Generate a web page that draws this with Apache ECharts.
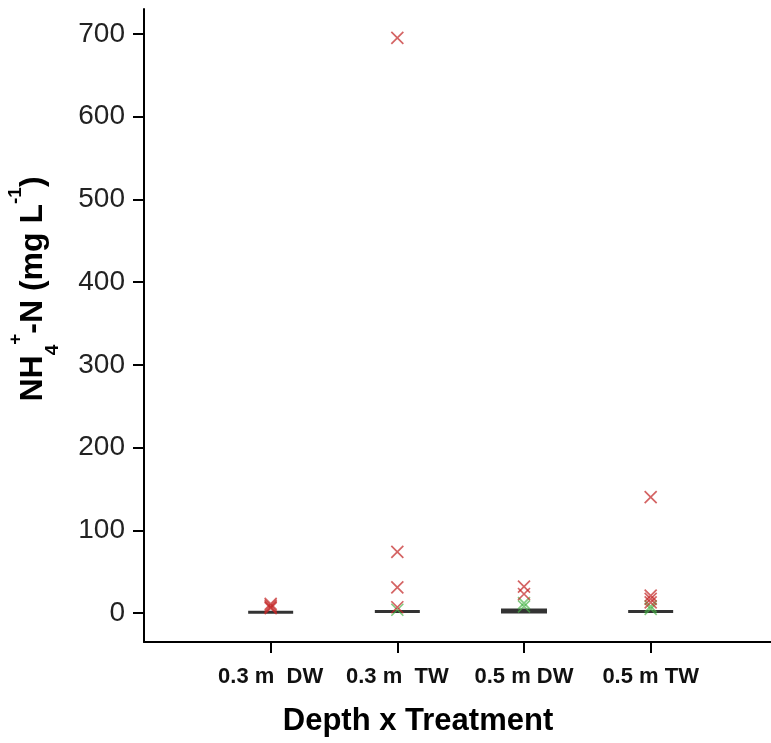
<!DOCTYPE html>
<html>
<head>
<meta charset="utf-8">
<script src="https://cdn.jsdelivr.net/npm/echarts@6/dist/echarts.min.js"></script>
<style>html,body{margin:0;padding:0;background:#fff}#c{width:771px;height:743px}</style>
</head>
<body>
<div id="c"></div>
<script>
var categories = ['0.3 m  DW', '0.3 m  TW', '0.5 m DW', '0.5 m TW'];
var yTicks = [0, 100, 200, 300, 400, 500, 600, 700];
var redValues = [
  [11, 9, 7, 6],
  [695, 74, 31, 7],
  [32, 23],
  [140, 21, 17, 13]
];
var greenValues = [
  [],
  [4],
  [12, 8],
  [8, 5]
];
var medians = [1, 2, 2.5, 2];
var xTitle = 'Depth x Treatment';

function pts(groups) {
  var out = [];
  groups.forEach(function (g, i) {
    g.forEach(function (v) { out.push([i + 1, v]); });
  });
  return out;
}
var FONT = 'Liberation Sans, Arial, sans-serif';
var xPath = 'path://M0,0L10,10M10,0L0,10';
var chart = echarts.init(document.getElementById('c'), null, {renderer: 'canvas'});
chart.setOption({
  animation: false,
  backgroundColor: '#fff',
  grid: {left: 144, right: 0, top: 9, bottom: 101, containLabel: false},
  xAxis: {
    type: 'value', min: 0, max: 4.95,
    splitLine: {show: false},
    axisLine: {show: true, onZero: false, lineStyle: {color: '#000', width: 2}},
    axisTick: {show: true, length: 11, lineStyle: {color: '#000', width: 2}, customValues: [1, 2, 3, 4]},
    axisLabel: {
      customValues: [1, 2, 3, 4], margin: 24,
      fontFamily: FONT, fontWeight: 'bold', fontSize: 22, color: '#111',
      formatter: function (v) { return categories[Math.round(v) - 1] || ''; }
    }
  },
  yAxis: {
    type: 'value', min: -35, max: 730,
    splitLine: {show: false},
    axisLine: {show: true, onZero: false, lineStyle: {color: '#000', width: 2}},
    axisTick: {show: true, length: 11, lineStyle: {color: '#000', width: 2}, customValues: yTicks},
    axisLabel: {
      customValues: yTicks, margin: 19,
      fontFamily: FONT, fontSize: 28, color: '#222'
    }
  },
  graphic: [
    {
      type: 'text', x: 418, y: 721,
      style: {text: xTitle, font: 'bold 31px ' + FONT, fill: '#000', align: 'center', verticalAlign: 'middle'}
    },
    {
      type: 'text', x: 33, y: 289, rotation: Math.PI / 2,
      style: {
        text: '{b|NH}{sub|4}{sup|+}{b|-N (mg L}{sup|-1}{b|)}',
        align: 'center', verticalAlign: 'middle',
        rich: {
          b: {font: 'bold 32px ' + FONT, fill: '#000', lineHeight: 42},
          sub: {font: 'bold 19px ' + FONT, fill: '#000', verticalAlign: 'bottom', lineHeight: 42, padding: [0, 0, -8, 0]},
          sup: {font: 'bold 19px ' + FONT, fill: '#000', verticalAlign: 'top', lineHeight: 42, padding: [-6, 0, 0, 0]}
        }
      }
    }
  ],
  series: [
    {
      type: 'scatter', name: 'median',
      data: medians.map(function (v, i) { return [i + 1, v]; }),
      symbol: 'rect',
      symbolSize: function (v, p) { return p.dataIndex === 2 ? [46, 5] : [45, 3]; },
      itemStyle: {color: '#000'}, z: 2
    },
    {
      type: 'scatter', name: 'green', data: pts(greenValues),
      symbol: xPath, symbolSize: 12,
      itemStyle: {color: 'rgba(0,0,0,0)', borderColor: 'rgba(70,180,70,0.85)', borderWidth: 1.6}, z: 3
    },
    {
      type: 'scatter', name: 'red', data: pts(redValues),
      symbol: xPath, symbolSize: 12,
      itemStyle: {color: 'rgba(0,0,0,0)', borderColor: 'rgba(195,40,40,0.9)', borderWidth: 1.7}, z: 4
    }
  ]
});
</script>
</body>
</html>
